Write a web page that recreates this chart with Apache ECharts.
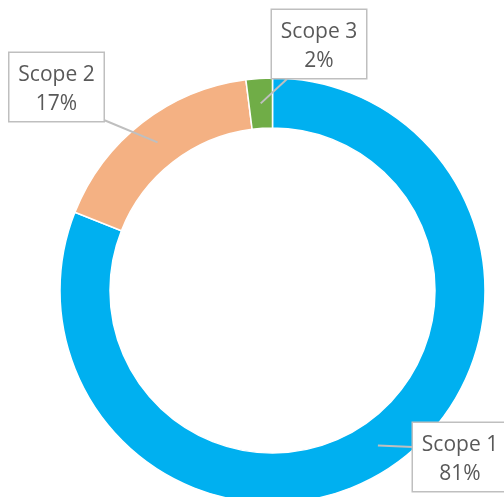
<!DOCTYPE html>
<html>
<head>
<meta charset="utf-8">
<script src="https://cdn.jsdelivr.net/npm/echarts@6/dist/echarts.min.js"></script>
<style>
  html, body { margin: 0; padding: 0; background: #fff; }
  #chart { width: 504px; height: 497px; }
</style>
</head>
<body>
<div id="chart"></div>
<script>
const categories = ['Scope 1', 'Scope 2', 'Scope 3'];
const values = [81, 17, 2];
const colors = ['#00B0F0', '#F4B183', '#70AD47'];

// callout boxes (center x, top y)
const boxPos = [[460, 423], [56.5, 53], [319, 10]];

const CX = 272.5, CY = 290.5, R_IN = 162.5, R_OUT = 212.5;

const pieData = categories.map((name, i) => ({ name, value: values[i] }));

const chart = echarts.init(document.getElementById('chart'));

chart.setOption({
  animation: false,
  color: colors,
  series: [{
    // the ring itself
    type: 'pie',
    z: 2,
    center: [CX, CY],
    radius: [R_IN, R_OUT],
    startAngle: 90,
    clockwise: true,
    silent: true,
    itemStyle: { borderColor: '#fff', borderWidth: 1.5 },
    label: { show: false },
    labelLine: { show: false },
    data: pieData
  }, {
    // same slices, transparent, only carries the callouts on top
    type: 'pie',
    z: 5,
    center: [CX, CY],
    radius: [R_IN, R_OUT],
    startAngle: 90,
    clockwise: true,
    silent: true,
    avoidLabelOverlap: false,
    itemStyle: { color: 'rgba(0,0,0,0)' },
    label: {
      show: true,
      position: 'outside',
      formatter: (p) => `${p.name}\n${Math.round(p.percent)}%`,
      fontFamily: 'Open Sans',
      fontSize: 21,
      lineHeight: 29,
      color: '#595959',
      width: 76,
      overflow: 'none',
      align: 'center',
      backgroundColor: '#fff',
      borderColor: '#BFBFBF',
      borderWidth: 1.5,
      padding: [8, 9, 2, 9]
    },
    labelLine: {
      show: true,
      lineStyle: { color: '#BFBFBF', width: 2 }
    },
    labelLayout: (params) => {
      const i = params.dataIndex;
      const [bx, by] = boxPos[i];
      const pts = params.labelLinePoints;
      let anchor = null;
      if (pts && pts[0]) {
        const k = ((R_IN + R_OUT) / 2) / R_OUT;
        anchor = [CX + (pts[0][0] - CX) * k, CY + (pts[0][1] - CY) * k];
      }
      // where the pointer meets the box
      const ends = [
        [bx - 47, by + 24],
        [bx + 45, by + 66],
        [bx - 32, by + 69]
      ];
      const out = { x: bx, y: by, align: 'center', verticalAlign: 'top' };
      if (anchor) {
        out.labelLinePoints = [anchor, ends[i], ends[i]];
      }
      return out;
    },
    data: pieData
  }]
});
</script>
</body>
</html>
